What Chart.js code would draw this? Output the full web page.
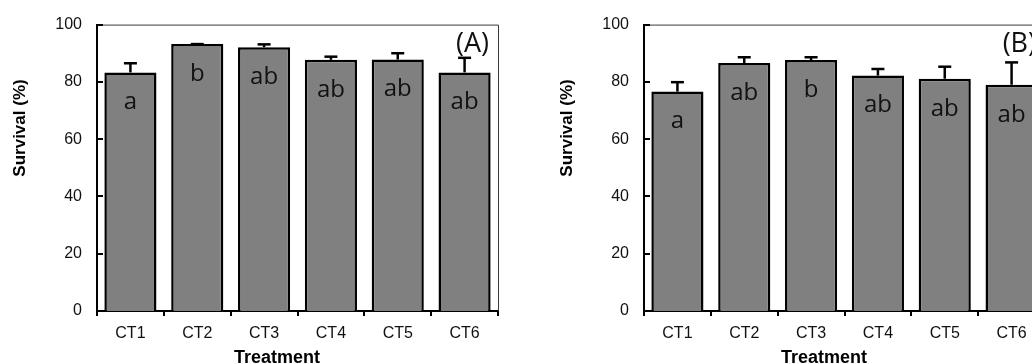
<!DOCTYPE html>
<html><head><meta charset="utf-8">
<script src="https://cdn.jsdelivr.net/npm/chart.js@4.4.1/dist/chart.umd.min.js"></script>
<style>
html,body{margin:0;padding:0;background:#fff;overflow:hidden;}
#wrap{position:relative;width:1032px;height:364px;overflow:hidden;background:#fff;}
#wrap canvas{position:absolute;top:0;}
</style></head><body>
<div id="wrap">
<canvas id="cA" width="516" height="364" style="left:0px"></canvas>
<canvas id="cB" width="516" height="364" style="left:547px"></canvas>
</div>
<script>
// ---- data ----
const categories = ['CT1', 'CT2', 'CT3', 'CT4', 'CT5', 'CT6'];
const survivalA = [83.3, 93.2, 92.1, 87.7, 87.8, 83.3];
const errorA    = [3.2, 0.0, 1.0, 1.1, 2.2, 5.1];
const lettersA  = ['a', 'b', 'ab', 'ab', 'ab', 'ab'];
const survivalB = [76.6, 86.6, 87.6, 82.2, 81.1, 79.0];
const errorB    = [3.3, 2.0, 1.0, 2.3, 4.2, 7.8];
const lettersB  = ['a', 'ab', 'b', 'ab', 'ab', 'ab'];
const yTicks = [0, 20, 40, 60, 80, 100];
const panelLabels = ['(A)', '(B)'];
const xTitle = 'Treatment';
const yTitle = 'Survival (%)';

const decor = {
  id: 'decor',
  afterDatasetsDraw(chart, args, opts) {
    const ctx = chart.ctx, ys = chart.scales.y, a = chart.chartArea;
    const meta = chart.getDatasetMeta(0);
    ctx.save();
    // top/right frame
    ctx.strokeStyle = '#3a3a3a'; ctx.lineWidth = 1;
    ctx.beginPath();
    ctx.moveTo(a.left, a.top + 0.5); ctx.lineTo(a.right + 0.5, a.top + 0.5); ctx.lineTo(a.right + 0.5, a.bottom);
    ctx.stroke();
    // inward y ticks
    ctx.strokeStyle = '#000'; ctx.lineWidth = 2;
    yTicks.forEach(v => {
      const py = Math.round(ys.getPixelForValue(v));
      ctx.beginPath(); ctx.moveTo(a.left, py); ctx.lineTo(a.left + 6, py); ctx.stroke();
    });
    // error bars
    ctx.lineWidth = 2.5;
    opts.means.forEach((m, i) => {
      const px = meta.data[i].x;
      const top = ys.getPixelForValue(m);
      const cap = ys.getPixelForValue(m + opts.errors[i]);
      ctx.beginPath(); ctx.moveTo(px, top); ctx.lineTo(px, cap); ctx.stroke();
      ctx.beginPath(); ctx.moveTo(px - 6.5, cap); ctx.lineTo(px + 6.5, cap); ctx.stroke();
    });
    // significance letters
    ctx.fillStyle = '#111';
    ctx.font = '24px "Open Sans"';
    ctx.textAlign = 'center'; ctx.textBaseline = 'middle';
    opts.letters.forEach((t, i) => {
      const px = meta.data[i].x;
      ctx.fillText(t, px, ys.getPixelForValue(opts.means[i]) + 30);
    });
    // panel label
    ctx.font = '27px "Open Sans"';
    ctx.textAlign = 'right';
    ctx.fillText(opts.panel, a.right - 9, a.top + 20);
    // axis titles
    ctx.fillStyle = '#000';
    ctx.font = 'bold 18px "Liberation Sans"';
    ctx.textAlign = 'center'; ctx.textBaseline = 'alphabetic';
    ctx.fillText(xTitle, a.left + 180, 363);
    ctx.font = 'bold 17px "Liberation Sans"';
    ctx.translate(a.left - 77, 128);
    ctx.rotate(-Math.PI / 2);
    ctx.textBaseline = 'middle';
    ctx.fillText(yTitle, 0, 0);
    ctx.restore();
  }
};

function makeChart(id, means, errors, letters, panel) {
  return new Chart(document.getElementById(id), {
    type: 'bar',
    data: {
      labels: categories,
      datasets: [{
        data: means,
        backgroundColor: '#808080',
        borderColor: '#000',
        borderWidth: 2.5,
        barPercentage: 0.78,
        categoryPercentage: 1.0
      }]
    },
    options: {
      responsive: false,
      animation: false,
      events: [],
      layout: { padding: { top: 21, right: 18, left: 0, bottom: 0 } },
      plugins: {
        legend: { display: false },
        tooltip: { enabled: false },
        decor: { means, errors, letters, panel }
      },
      scales: {
        x: {
          grid: { display: true, drawOnChartArea: false, drawTicks: true, tickLength: 5, color: '#000', lineWidth: 2, offset: true },
          border: { display: true, color: '#000', width: 2 },
          ticks: { color: '#111', font: { family: 'Liberation Sans', size: 16 }, padding: 8, maxRotation: 0 },
          afterFit(s) { s.height = 53; }
        },
        y: {
          min: 0, max: 100,
          afterBuildTicks(s) { s.ticks = yTicks.map(v => ({ value: v })); },
          grid: { display: false, drawTicks: false },
          border: { display: true, color: '#000', width: 2 },
          ticks: { color: '#111', font: { family: 'Liberation Sans', size: 16 }, padding: 15 },
          afterFit(s) { s.width = 97; }
        }
      }
    },
    plugins: [decor]
  });
}

makeChart('cA', survivalA, errorA, lettersA, panelLabels[0]);
makeChart('cB', survivalB, errorB, lettersB, panelLabels[1]);
</script>
</body></html>
